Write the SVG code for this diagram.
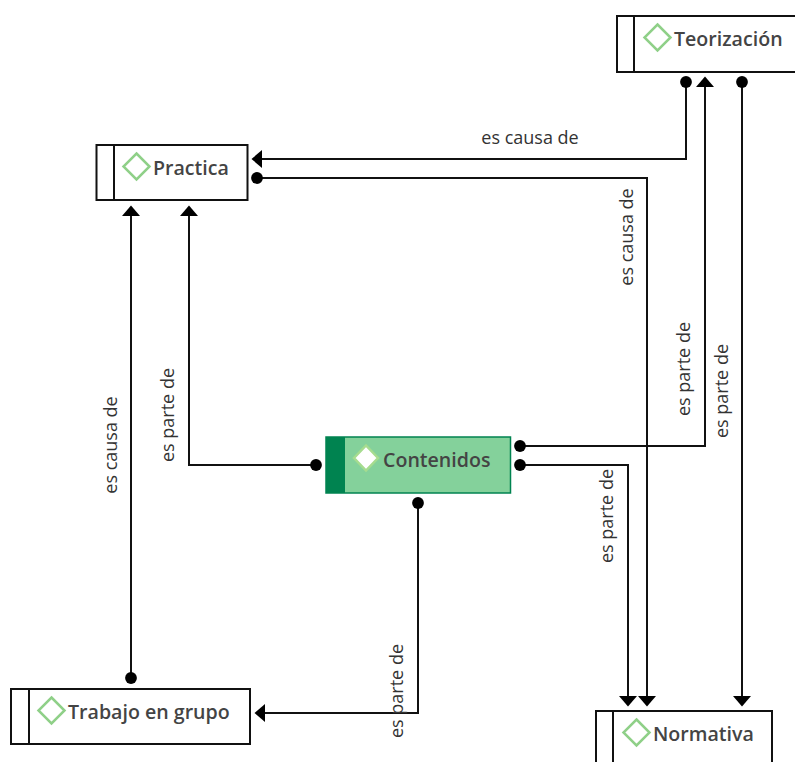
<svg xmlns="http://www.w3.org/2000/svg" width="795" height="762" viewBox="0 0 795 762">
<style>
.box{fill:#fff;stroke:#111;stroke-width:2}
.div{stroke:#111;stroke-width:2;fill:none}
.dia{fill:#fff;stroke:#8fd088;stroke-width:2.5}
.t{font-family:"Open Sans","Noto Sans","Liberation Sans",sans-serif;font-size:19.600px;font-weight:600;fill:#444}
.l{font-family:"Open Sans","Noto Sans","Liberation Sans",sans-serif;font-size:18px;fill:#333;text-anchor:middle}
.c{fill:none;stroke:#111;stroke-width:2;marker-start:url(#dot);marker-end:url(#arr)}
</style>
<defs>
<marker id="arr" markerUnits="userSpaceOnUse" markerWidth="12" markerHeight="20" refX="0" refY="10" orient="auto"><path d="M0 1V19L10.500 10Z" fill="#000"/></marker>
<marker id="dot" markerUnits="userSpaceOnUse" markerWidth="14" markerHeight="14" refX="7" refY="7" orient="auto"><circle cx="7" cy="7" r="5.900" fill="#000"/></marker>
</defs>
<g id="connectors">
<path class="c" d="M686 82V159H262"/>
<path class="c" d="M257 178H647V696"/>
<path class="c" d="M520 446H705V87"/>
<path class="c" d="M742 82V696"/>
<path class="c" d="M520 465H628V696"/>
<path class="c" d="M316 465H189V216"/>
<path class="c" d="M131 678V216"/>
<path class="c" d="M418 503V713H265"/>
</g>
<g id="labels">
<text class="l" x="530" y="144">es causa de</text>
<text class="l" transform="translate(633,237) rotate(-90)">es causa de</text>
<text class="l" transform="translate(690,369) rotate(-90)">es parte de</text>
<text class="l" transform="translate(728,391) rotate(-90)">es parte de</text>
<text class="l" transform="translate(613,516) rotate(-90)">es parte de</text>
<text class="l" transform="translate(174,415) rotate(-90)">es parte de</text>
<text class="l" transform="translate(117,445) rotate(-90)">es causa de</text>
<text class="l" transform="translate(403,691) rotate(-90)">es parte de</text>
</g>
<g id="teorizacion">
<rect class="box" x="617" y="16" width="182" height="56"/><path class="div" d="M634 16V72"/>
<path class="dia" d="M657.500 24.500L670.500 37.500L657.500 50.500L644.500 37.500Z"/>
<text class="t" x="674" y="46">Teorización</text>
</g>
<g id="practica">
<rect class="box" x="96.500" y="145" width="151" height="55"/><path class="div" d="M114 145V200"/>
<path class="dia" d="M136.500 153.500L149.500 166.500L136.500 179.500L123.500 166.500Z"/>
<text class="t" x="153" y="175">Practica</text>
</g>
<g id="contenidos">
<rect x="326" y="437" width="184.500" height="56" fill="#84d19b" stroke="#008350" stroke-width="1.500"/>
<rect x="326" y="437" width="19" height="56" fill="#008350"/>
<path d="M366 445.500L378 458L366 470.500L354 458Z" fill="#fff" stroke="#a6dc8f" stroke-width="2.500"/>
<text class="t" x="383" y="467">Contenidos</text>
</g>
<g id="trabajo">
<rect class="box" x="11" y="689" width="239" height="55"/><path class="div" d="M29 689V744"/>
<path class="dia" d="M51.500 697.500L64.500 710.500L51.500 723.500L38.500 710.500Z"/>
<text class="t" x="68" y="719">Trabajo en grupo</text>
</g>
<g id="normativa">
<rect class="box" x="596" y="711" width="176" height="60"/><path class="div" d="M613 711V771"/>
<path class="dia" d="M636.500 719.500L649.500 732.500L636.500 745.500L623.500 732.500Z"/>
<text class="t" x="653" y="741">Normativa</text>
</g>
</svg>
